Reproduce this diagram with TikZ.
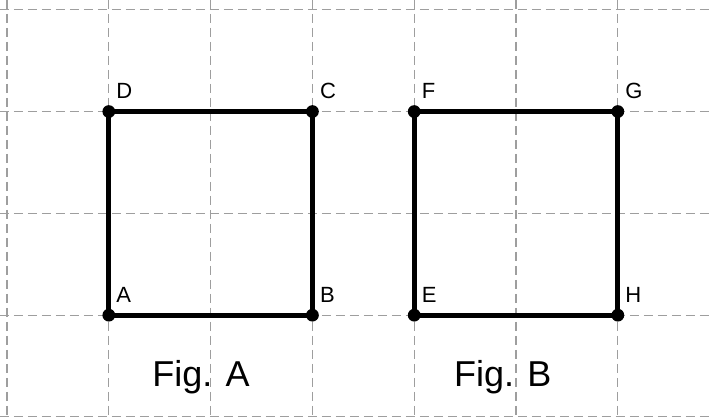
\documentclass[tikz,border=0pt]{standalone}
\usepackage{fontspec}
\setmainfont{Liberation Sans}
\tikzset{
  gridline/.style={black!38, line width=0.8pt, dash pattern=on 6.5pt off 4pt},
  side/.style={line width=3.8pt},
  ptlabel/.style={anchor=base west, inner sep=0pt, xshift=5.5pt, yshift=9.5pt, font=\fontsize{16.5}{19}\selectfont},
  figlabel/.style={anchor=base, inner sep=0pt, font=\fontsize{27}{32}\selectfont}
}
\begin{document}
\begin{tikzpicture}[x=76.35pt, y=76.35pt]
\useasboundingbox (-0.069,-0.02) rectangle (6.935,4.096);
\foreach \i in {0,...,6}
  \draw[gridline] (\i,4.096) -- (\i,-0.02);
\foreach \j in {0,...,4}
  \draw[gridline] (-0.069,\j) -- (6.935,\j);
\coordinate (A) at (1,1);
\coordinate (B) at (3,1);
\coordinate (C) at (3,3);
\coordinate (D) at (1,3);
\coordinate (E) at (4,1);
\coordinate (H) at (6,1);
\coordinate (G) at (6,3);
\coordinate (F) at (4,3);
\draw[side] (A) -- (B) -- (C) -- (D) -- cycle;
\draw[side] (E) -- (H) -- (G) -- (F) -- cycle;
\fill (A) circle (4.8pt);
\fill (B) circle (4.8pt);
\fill (C) circle (4.8pt);
\fill (D) circle (4.8pt);
\fill (E) circle (4.8pt);
\fill (H) circle (4.8pt);
\fill (G) circle (4.8pt);
\fill (F) circle (4.8pt);
\node[ptlabel] (labA) at (A) {A};
\node[ptlabel] (labB) at (B) {B};
\node[ptlabel] (labC) at (C) {C};
\node[ptlabel] (labD) at (D) {D};
\node[ptlabel] (labE) at (E) {E};
\node[ptlabel] (labH) at (H) {H};
\node[ptlabel] (labG) at (G) {G};
\node[ptlabel] (labF) at (F) {F};
\node[figlabel] (figA) at (1.905,0.3) {Fig. A};
\node[figlabel] (figB) at (4.87,0.3) {Fig. B};
\end{tikzpicture}
\end{document}
